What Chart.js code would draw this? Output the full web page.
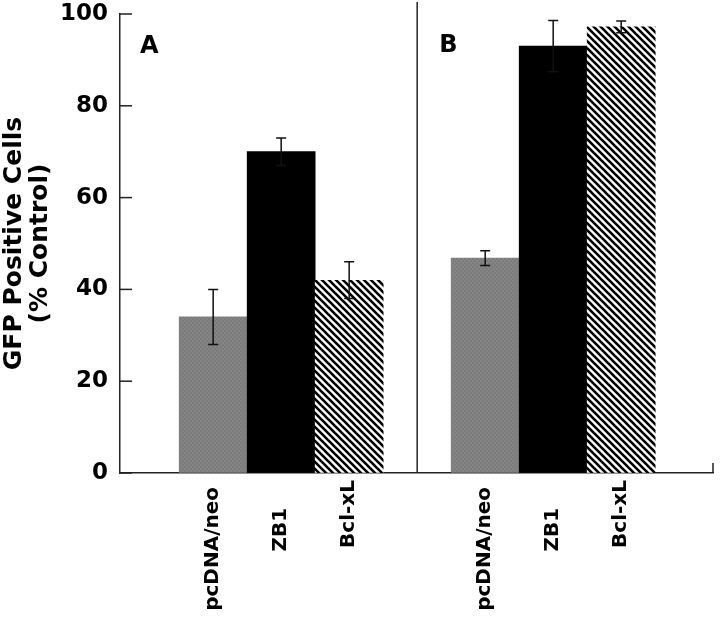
<!DOCTYPE html>
<html>
<head>
<meta charset="utf-8">
<script src="https://cdn.jsdelivr.net/npm/chart.js@4.4.1/dist/chart.umd.min.js"></script>
<style>
  body { margin: 0; background: #fff; }
  #wrap { width: 720px; height: 620px; }
</style>
</head>
<body>
<div id="wrap"><canvas id="gfp" width="720" height="620"></canvas></div>
<script>
// data
const panels = ['A', 'B'];
const categories = ['pcDNA/neo', 'ZB1', 'Bcl-xL'];
const valuesA = [34, 70, 42];
const errorsA = [6, 3, 4];
const valuesB = [46.8, 93, 97.2];
const errorsB = [1.6, 5.6, 1.3];
const yTicks = [0, 20, 40, 60, 80, 100];

const FONT = '"DejaVu Sans", Arial, sans-serif';

// textures for the bars
function grayPattern() {
    const c = document.createElement('canvas');
    c.width = 4; c.height = 4;
    const g = c.getContext('2d');
    g.fillStyle = '#7b7b7b';
    g.fillRect(0, 0, 4, 4);
    g.fillStyle = '#858585';
    g.fillRect(0, 0, 2, 2);
    g.fillRect(2, 2, 2, 2);
    return g.createPattern(c, 'repeat');
}
function hatchPattern() {
    const s = 7;
    const c = document.createElement('canvas');
    c.width = s; c.height = s;
    const g = c.getContext('2d');
    g.fillStyle = '#fff';
    g.fillRect(0, 0, s, s);
    g.strokeStyle = '#000';
    g.lineWidth = 2.6;
    for (let k = -1; k <= 1; k++) {
        g.beginPath();
        g.moveTo(k * s - 1, -1);
        g.lineTo(k * s + s + 1, s + 1);
        g.stroke();
    }
    return g.createPattern(c, 'repeat');
}

const fills = [grayPattern(), '#000', hatchPattern()];

// one empty slot between the panels, bars one unit wide
const points = [];
const errs = [];
const colors = [];
const labelAt = {};
[[valuesA, errorsA], [valuesB, errorsB]].forEach(([vals, errors], p) => {
    vals.forEach((v, i) => {
        const x = p * (categories.length + 1) + i + 1;
        points.push({x: x, y: v});
        errs.push(errors[i]);
        colors.push(fills[i]);
        labelAt[x] = categories[i];
    });
});
const dividerX = categories.length + 1;

const extras = {
    id: 'extras',
    afterDatasetsDraw(chart) {
        const {ctx, chartArea, scales: {x, y}} = chart;
        ctx.save();
        ctx.strokeStyle = '#111';
        ctx.lineWidth = 1.5;
        // error bars
        chart.getDatasetMeta(0).data.forEach((bar, i) => {
            const v = points[i].y, e = errs[i];
            const top = y.getPixelForValue(v + e);
            const bot = y.getPixelForValue(v - e);
            ctx.beginPath();
            ctx.moveTo(bar.x, top); ctx.lineTo(bar.x, bot);
            ctx.moveTo(bar.x - 5, top); ctx.lineTo(bar.x + 5, top);
            ctx.moveTo(bar.x - 5, bot); ctx.lineTo(bar.x + 5, bot);
            ctx.stroke();
        });
        // inward ticks on the y axis
        ctx.strokeStyle = '#222';
        yTicks.forEach(v => {
            const py = y.getPixelForValue(v);
            ctx.beginPath();
            ctx.moveTo(chartArea.left, py); ctx.lineTo(chartArea.left + 12, py);
            ctx.stroke();
        });
        // end tick on the x axis
        ctx.beginPath();
        ctx.moveTo(chartArea.right, chartArea.bottom);
        ctx.lineTo(chartArea.right, chartArea.bottom - 10);
        ctx.stroke();
        // panel divider
        const dx = x.getPixelForValue(dividerX);
        ctx.beginPath();
        ctx.moveTo(dx, 2); ctx.lineTo(dx, chartArea.bottom);
        ctx.stroke();
        // panel letters
        ctx.fillStyle = '#000';
        ctx.font = 'bold 24px ' + FONT;
        ctx.textBaseline = 'alphabetic';
        ctx.fillText(panels[0], chartArea.left + 20, 53);
        ctx.fillText(panels[1], dx + 22, 52);
        ctx.restore();
    }
};

new Chart(document.getElementById('gfp').getContext('2d'), {
    type: 'bar',
    data: {
        datasets: [{
            data: points,
            backgroundColor: colors,
            borderWidth: 0,
            barPercentage: 1,
            categoryPercentage: 1
        }]
    },
    options: {
        responsive: false,
        animation: false,
        layout: { padding: { top: 14, right: 7, left: 0, bottom: 0 } },
        plugins: { legend: { display: false }, tooltip: { enabled: false } },
        scales: {
            x: {
                type: 'linear',
                offset: false,
                min: -0.37,
                max: 8.35,
                afterBuildTicks: axis => {
                    axis.ticks = Object.keys(labelAt).map(v => ({ value: Number(v) }));
                },
                afterFit: scale => {
                    scale.height = 147;
                    scale.paddingLeft = 0;
                    scale.paddingRight = 0;
                },
                grid: { drawOnChartArea: false, drawTicks: false },
                border: { display: true, color: '#222', width: 1.5 },
                ticks: {
                    autoSkip: false,
                    minRotation: 90,
                    maxRotation: 90,
                    padding: 7,
                    color: '#000',
                    font: { family: FONT, weight: 'bold', size: 20 },
                    callback: v => {
                        const t = labelAt[v] || '';
                        if (t === 'ZB1') return t + '    ';
                        if (t === 'pcDNA/neo') return t + ' ';
                        return t;
                    }
                }
            },
            y: {
                min: 0,
                max: 100,
                afterBuildTicks: axis => {
                    axis.ticks = yTicks.map(v => ({ value: v }));
                },
                afterFit: scale => {
                    scale.width = 120;
                    scale.paddingTop = 0;
                    scale.paddingBottom = 0;
                },
                grid: { drawOnChartArea: false, drawTicks: false },
                border: { display: true, color: '#222', width: 1.5 },
                ticks: {
                    padding: 12,
                    color: '#000',
                    font: { family: FONT, weight: 'bold', size: 23 }
                },
                title: {
                    display: true,
                    text: ['GFP Positive Cells', '(% Control)'],
                    color: '#000',
                    padding: { top: 1, bottom: 0 },
                    font: { family: FONT, weight: 'bold', size: 25, lineHeight: 1.04 }
                }
            }
        }
    },
    plugins: [extras]
});
</script>
</body>
</html>
